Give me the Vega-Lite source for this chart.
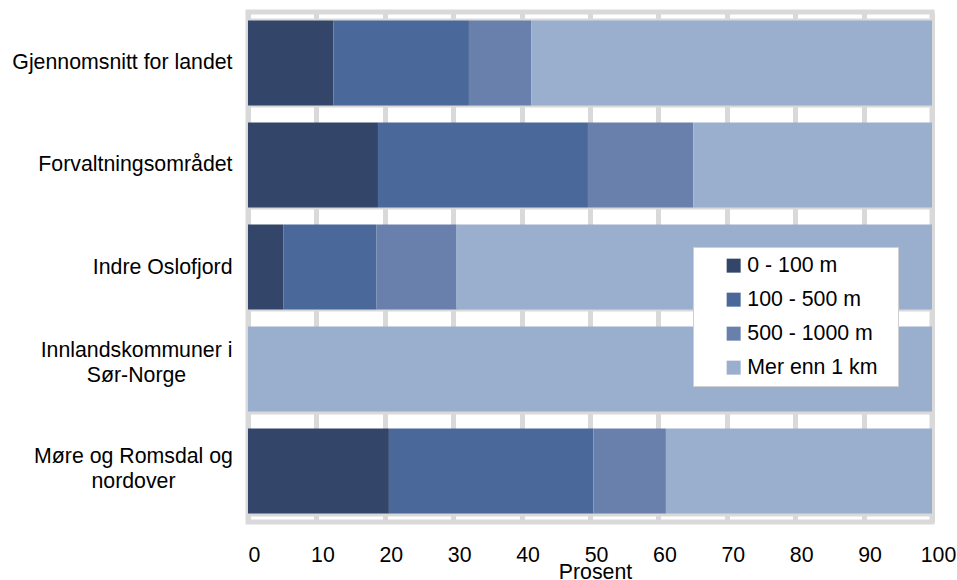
{
  "$schema": "https://vega.github.io/schema/vega-lite/v6.json",
  "width": 684,
  "height": 510,
  "autosize": "none",
  "padding": {"left": 248, "top": 12, "right": 25, "bottom": 58},
  "background": "white",
  "config": {
    "font": "Liberation Sans",
    "view": {"stroke": "#d9d9d9", "strokeWidth": 5}
  },
  "data": {
    "values": [
      {"region": "Gjennomsnitt for landet", "avstand": "0 - 100 m", "pct": 12.5},
      {"region": "Gjennomsnitt for landet", "avstand": "100 - 500 m", "pct": 19.8},
      {"region": "Gjennomsnitt for landet", "avstand": "500 - 1000 m", "pct": 9.1},
      {"region": "Gjennomsnitt for landet", "avstand": "Mer enn 1 km", "pct": 58.6},
      {"region": "Forvaltningsområdet", "avstand": "0 - 100 m", "pct": 19.0},
      {"region": "Forvaltningsområdet", "avstand": "100 - 500 m", "pct": 30.7},
      {"region": "Forvaltningsområdet", "avstand": "500 - 1000 m", "pct": 15.4},
      {"region": "Forvaltningsområdet", "avstand": "Mer enn 1 km", "pct": 34.9},
      {"region": "Indre Oslofjord", "avstand": "0 - 100 m", "pct": 5.2},
      {"region": "Indre Oslofjord", "avstand": "100 - 500 m", "pct": 13.6},
      {"region": "Indre Oslofjord", "avstand": "500 - 1000 m", "pct": 11.7},
      {"region": "Indre Oslofjord", "avstand": "Mer enn 1 km", "pct": 69.5},
      {"region": "Innlandskommuner i Sør-Norge", "avstand": "Mer enn 1 km", "pct": 100},
      {"region": "Møre og Romsdal og nordover", "avstand": "0 - 100 m", "pct": 20.6},
      {"region": "Møre og Romsdal og nordover", "avstand": "100 - 500 m", "pct": 29.9},
      {"region": "Møre og Romsdal og nordover", "avstand": "500 - 1000 m", "pct": 10.6},
      {"region": "Møre og Romsdal og nordover", "avstand": "Mer enn 1 km", "pct": 38.9}
    ]
  },
  "mark": {"type": "bar"},
  "encoding": {
    "y": {
      "field": "region",
      "type": "nominal",
      "sort": null,
      "scale": {"paddingInner": 0.167, "paddingOuter": 0.083},
      "axis": {
        "title": null,
        "domain": false,
        "ticks": false,
        "labelFontSize": 21.3,
        "labelColor": "#000000",
        "labelLimit": 400,
        "labelLineHeight": 25,
        "labelExpr": "datum.value == 'Innlandskommuner i Sør-Norge' ? ['Innlandskommuner i', 'Sør-Norge'] : datum.value == 'Møre og Romsdal og nordover' ? ['Møre og Romsdal og', 'nordover'] : datum.label",
        "labelAlign": {
          "condition": {"test": "datum.value == 'Innlandskommuner i Sør-Norge' || datum.value == 'Møre og Romsdal og nordover'", "value": "center"},
          "value": "right"
        },
        "labelPadding": {
          "condition": [
            {"test": "datum.value == 'Innlandskommuner i Sør-Norge'", "value": 112},
            {"test": "datum.value == 'Møre og Romsdal og nordover'", "value": 115}
          ],
          "value": 16
        },
        "labelOffset": {
          "condition": [
            {"test": "datum.value == 'Innlandskommuner i Sør-Norge'", "value": -19},
            {"test": "datum.value == 'Møre og Romsdal og nordover'", "value": -15}
          ],
          "value": 0
        },
        "grid": true,
        "tickBand": "extent",
        "gridColor": "#d9d9d9",
        "gridWidth": 4
      }
    },
    "x": {
      "field": "pct",
      "type": "quantitative",
      "stack": "zero",
      "scale": {"domain": [0, 100], "nice": false},
      "axis": {
        "values": [0, 10, 20, 30, 40, 50, 60, 70, 80, 90, 100],
        "title": "Prosent",
        "grid": true,
        "gridColor": "#d9d9d9",
        "gridWidth": 5,
        "domain": false,
        "ticks": false,
        "tickSize": 0,
        "labelPadding": 22,
        "labelOffset": 6,
        "labelFontSize": 21.3,
        "labelColor": "#000000",
        "labelFlush": false,
        "titleFontSize": 21.3,
        "titleFontWeight": "normal",
        "titleColor": "#000000",
        "titleBaseline": "alphabetic",
        "titleAlign": "center",
        "titleX": 347,
        "titleY": 56
      }
    },
    "color": {
      "field": "avstand",
      "type": "nominal",
      "scale": {
        "domain": ["0 - 100 m", "100 - 500 m", "500 - 1000 m", "Mer enn 1 km"],
        "range": ["#33466a", "#4a6899", "#6980ad", "#9aaece"]
      },
      "legend": {
        "title": null,
        "orient": "none",
        "legendX": 445,
        "legendY": 235,
        "fillColor": "white",
        "strokeColor": "#d0d0d0",
        "padding": 8,
        "symbolType": "square",
        "symbolSize": 196,
        "symbolStrokeWidth": 0,
        "symbolOffset": 22,
        "labelOffset": 3,
        "labelFontSize": 21.3,
        "labelColor": "#000000",
        "rowPadding": 12,
        "labelExpr": "datum.label + '\u00a0\u00a0\u200b'"
      }
    }
  }
}
